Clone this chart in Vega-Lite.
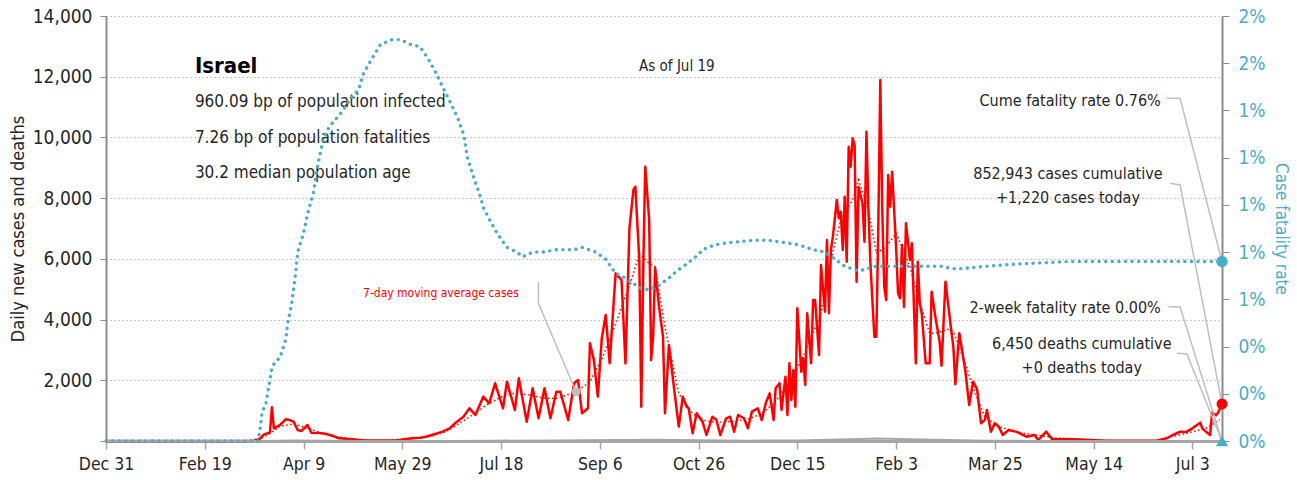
{
  "$schema": "https://vega.github.io/schema/vega-lite/v6.json",
  "width": 1116,
  "height": 425,
  "autosize": {"type": "none"},
  "padding": {"left": 106, "top": 16, "right": 75, "bottom": 39},
  "background": "white",
  "config": {"font": "DejaVu Sans Condensed, Liberation Sans Narrow, Roboto, sans-serif", "view": {"stroke": null}},
  "datasets": {
    "cases": [
      {"date":"2019-12-31","v":0},{"date":"2020-03-10","v":0},{"date":"2020-03-15","v":10},{"date":"2020-03-18","v":80},{"date":"2020-03-20","v":220},{"date":"2020-03-23","v":280},{"date":"2020-03-24","v":1110},{"date":"2020-03-25","v":418},{"date":"2020-03-28","v":520},{"date":"2020-03-31","v":714},{"date":"2020-04-02","v":690},{"date":"2020-04-04","v":636},{"date":"2020-04-06","v":362},{"date":"2020-04-08","v":330},{"date":"2020-04-11","v":527},{"date":"2020-04-13","v":274},{"date":"2020-04-17","v":260},{"date":"2020-04-20","v":241},{"date":"2020-04-24","v":165},{"date":"2020-04-27","v":89},{"date":"2020-05-04","v":56},{"date":"2020-05-10","v":20},{"date":"2020-05-17","v":15},{"date":"2020-05-26","v":20},{"date":"2020-05-30","v":60},{"date":"2020-06-03","v":89},{"date":"2020-06-07","v":110},{"date":"2020-06-10","v":140},{"date":"2020-06-15","v":241},{"date":"2020-06-18","v":300},{"date":"2020-06-22","v":418},{"date":"2020-06-25","v":600},{"date":"2020-06-29","v":800},{"date":"2020-07-02","v":1077},{"date":"2020-07-05","v":856},{"date":"2020-07-09","v":1460},{"date":"2020-07-12","v":1241},{"date":"2020-07-15","v":1900},{"date":"2020-07-19","v":1077},{"date":"2020-07-21","v":1954},{"date":"2020-07-25","v":1021},{"date":"2020-07-27","v":2065},{"date":"2020-07-31","v":636},{"date":"2020-08-03","v":1736},{"date":"2020-08-06","v":748},{"date":"2020-08-09","v":1736},{"date":"2020-08-12","v":748},{"date":"2020-08-15","v":1624},{"date":"2020-08-17","v":1624},{"date":"2020-08-21","v":692},{"date":"2020-08-24","v":1900},{"date":"2020-08-26","v":2010},{"date":"2020-08-28","v":912},{"date":"2020-08-31","v":1077},{"date":"2020-09-01","v":3218},{"date":"2020-09-03","v":2668},{"date":"2020-09-05","v":1460},{"date":"2020-09-07","v":3383},{"date":"2020-09-09","v":4150},{"date":"2020-09-11","v":2559},{"date":"2020-09-14","v":5524},{"date":"2020-09-17","v":5303},{"date":"2020-09-19","v":2559},{"date":"2020-09-21","v":7006},{"date":"2020-09-23","v":8268},{"date":"2020-09-24","v":8377},{"date":"2020-09-26","v":5962},{"date":"2020-09-27","v":1130},{"date":"2020-09-28","v":5700},{"date":"2020-09-29","v":9036},{"date":"2020-10-01","v":7280},{"date":"2020-10-02","v":2668},{"date":"2020-10-03","v":3436},{"date":"2020-10-04","v":5689},{"date":"2020-10-06","v":4424},{"date":"2020-10-08","v":3436},{"date":"2020-10-09","v":912},{"date":"2020-10-11","v":3162},{"date":"2020-10-14","v":1515},{"date":"2020-10-16","v":471},{"date":"2020-10-18","v":1460},{"date":"2020-10-20","v":1130},{"date":"2020-10-21","v":1077},{"date":"2020-10-23","v":253},{"date":"2020-10-25","v":912},{"date":"2020-10-28","v":636},{"date":"2020-10-30","v":198},{"date":"2020-11-02","v":800},{"date":"2020-11-04","v":700},{"date":"2020-11-06","v":198},{"date":"2020-11-09","v":748},{"date":"2020-11-11","v":800},{"date":"2020-11-13","v":307},{"date":"2020-11-15","v":856},{"date":"2020-11-18","v":750},{"date":"2020-11-20","v":418},{"date":"2020-11-22","v":965},{"date":"2020-11-25","v":1077},{"date":"2020-11-27","v":692},{"date":"2020-11-29","v":1241},{"date":"2020-12-01","v":1570},{"date":"2020-12-03","v":692},{"date":"2020-12-04","v":1736},{"date":"2020-12-06","v":1900},{"date":"2020-12-07","v":1021},{"date":"2020-12-09","v":2118},{"date":"2020-12-10","v":856},{"date":"2020-12-11","v":2559},{"date":"2020-12-12","v":1350},{"date":"2020-12-13","v":2339},{"date":"2020-12-14","v":1130},{"date":"2020-12-15","v":4371},{"date":"2020-12-17","v":2283},{"date":"2020-12-18","v":2724},{"date":"2020-12-19","v":1845},{"date":"2020-12-20","v":4206},{"date":"2020-12-22","v":2559},{"date":"2020-12-23","v":4645},{"date":"2020-12-24","v":4645},{"date":"2020-12-26","v":2833},{"date":"2020-12-27","v":5797},{"date":"2020-12-29","v":4259},{"date":"2020-12-30","v":6621},{"date":"2020-12-31","v":4206},{"date":"2021-01-01","v":6292},{"date":"2021-01-02","v":6730},{"date":"2021-01-04","v":7939},{"date":"2021-01-05","v":7336},{"date":"2021-01-06","v":7554},{"date":"2021-01-07","v":6292},{"date":"2021-01-08","v":8047},{"date":"2021-01-09","v":5906},{"date":"2021-01-10","v":9694},{"date":"2021-01-11","v":9036},{"date":"2021-01-12","v":9971},{"date":"2021-01-13","v":9750},{"date":"2021-01-14","v":5248},{"date":"2021-01-15","v":8377},{"date":"2021-01-17","v":7829},{"date":"2021-01-18","v":6566},{"date":"2021-01-19","v":10189},{"date":"2021-01-20","v":7610},{"date":"2021-01-21","v":5853},{"date":"2021-01-23","v":3436},{"date":"2021-01-24","v":3436},{"date":"2021-01-25","v":7060},{"date":"2021-01-26","v":11893},{"date":"2021-01-27","v":7610},{"date":"2021-01-28","v":5084},{"date":"2021-01-29","v":4645},{"date":"2021-01-30","v":8762},{"date":"2021-01-31","v":7719},{"date":"2021-02-01","v":8871},{"date":"2021-02-03","v":6401},{"date":"2021-02-04","v":4865},{"date":"2021-02-05","v":4700},{"date":"2021-02-06","v":6456},{"date":"2021-02-07","v":4424},{"date":"2021-02-08","v":7170},{"date":"2021-02-10","v":5962},{"date":"2021-02-11","v":6512},{"date":"2021-02-13","v":2559},{"date":"2021-02-14","v":5906},{"date":"2021-02-15","v":4535},{"date":"2021-02-16","v":4200},{"date":"2021-02-18","v":2559},{"date":"2021-02-20","v":2559},{"date":"2021-02-21","v":4919},{"date":"2021-02-23","v":4042},{"date":"2021-02-25","v":3300},{"date":"2021-02-26","v":2480},{"date":"2021-02-28","v":5248},{"date":"2021-03-03","v":3600},{"date":"2021-03-04","v":3106},{"date":"2021-03-05","v":1870},{"date":"2021-03-07","v":3548},{"date":"2021-03-08","v":3162},{"date":"2021-03-10","v":2339},{"date":"2021-03-12","v":1186},{"date":"2021-03-14","v":1954},{"date":"2021-03-16","v":1700},{"date":"2021-03-18","v":583},{"date":"2021-03-20","v":700},{"date":"2021-03-21","v":1021},{"date":"2021-03-23","v":307},{"date":"2021-03-25","v":583},{"date":"2021-03-27","v":471},{"date":"2021-03-29","v":198},{"date":"2021-04-01","v":362},{"date":"2021-04-05","v":300},{"date":"2021-04-10","v":142},{"date":"2021-04-14","v":200},{"date":"2021-04-16","v":33},{"date":"2021-04-20","v":307},{"date":"2021-04-23","v":60},{"date":"2021-05-04","v":56},{"date":"2021-05-20","v":10},{"date":"2021-06-15","v":10},{"date":"2021-06-20","v":89},{"date":"2021-06-23","v":198},{"date":"2021-06-27","v":307},{"date":"2021-06-30","v":300},{"date":"2021-07-03","v":418},{"date":"2021-07-07","v":604},{"date":"2021-07-08","v":418},{"date":"2021-07-10","v":300},{"date":"2021-07-12","v":198},{"date":"2021-07-13","v":933},{"date":"2021-07-15","v":850},{"date":"2021-07-16","v":933},{"date":"2021-07-18","v":1220}
    ],
    "ma": [
      {"date":"2019-12-31","v":0},{"date":"2020-03-10","v":0},{"date":"2020-03-18","v":80},{"date":"2020-03-22","v":200},{"date":"2020-03-28","v":480},{"date":"2020-04-04","v":560},{"date":"2020-04-11","v":430},{"date":"2020-04-18","v":260},{"date":"2020-04-25","v":150},{"date":"2020-05-02","v":70},{"date":"2020-05-09","v":25},{"date":"2020-05-16","v":15},{"date":"2020-05-23","v":15},{"date":"2020-05-30","v":45},{"date":"2020-06-06","v":100},{"date":"2020-06-13","v":170},{"date":"2020-06-20","v":300},{"date":"2020-06-27","v":580},{"date":"2020-07-04","v":880},{"date":"2020-07-11","v":1200},{"date":"2020-07-18","v":1450},{"date":"2020-07-25","v":1580},{"date":"2020-08-01","v":1520},{"date":"2020-08-08","v":1420},{"date":"2020-08-15","v":1400},{"date":"2020-08-25","v":1624},{"date":"2020-09-01","v":1950},{"date":"2020-09-07","v":2700},{"date":"2020-09-12","v":3500},{"date":"2020-09-17","v":4400},{"date":"2020-09-22","v":5300},{"date":"2020-09-26","v":6180},{"date":"2020-09-30","v":5900},{"date":"2020-10-04","v":5740},{"date":"2020-10-09","v":3765},{"date":"2020-10-16","v":1570},{"date":"2020-10-23","v":900},{"date":"2020-10-30","v":650},{"date":"2020-11-06","v":620},{"date":"2020-11-13","v":650},{"date":"2020-11-20","v":720},{"date":"2020-11-27","v":900},{"date":"2020-12-04","v":1300},{"date":"2020-12-11","v":1900},{"date":"2020-12-18","v":2800},{"date":"2020-12-27","v":4206},{"date":"2021-01-01","v":5962},{"date":"2021-01-06","v":7280},{"date":"2021-01-12","v":7939},{"date":"2021-01-15","v":8597},{"date":"2021-01-20","v":7610},{"date":"2021-01-24","v":6190},{"date":"2021-01-29","v":6400},{"date":"2021-02-03","v":6840},{"date":"2021-02-06","v":6400},{"date":"2021-02-10","v":5740},{"date":"2021-02-15","v":4540},{"date":"2021-02-20","v":3550},{"date":"2021-02-23","v":3550},{"date":"2021-03-01","v":3680},{"date":"2021-03-04","v":3600},{"date":"2021-03-07","v":3100},{"date":"2021-03-10","v":2559},{"date":"2021-03-15","v":1570},{"date":"2021-03-20","v":800},{"date":"2021-03-27","v":471},{"date":"2021-04-08","v":260},{"date":"2021-04-25","v":100},{"date":"2021-05-20","v":20},{"date":"2021-06-15","v":15},{"date":"2021-06-23","v":150},{"date":"2021-07-03","v":300},{"date":"2021-07-10","v":420},{"date":"2021-07-17","v":700}
    ],
    "deaths": [
      {"date":"2019-12-31","v":0},{"date":"2020-03-20","v":0},{"date":"2020-04-05","v":15},{"date":"2020-04-20","v":10},{"date":"2020-05-10","v":2},{"date":"2020-06-20","v":1},{"date":"2020-07-15","v":10},{"date":"2020-08-15","v":20},{"date":"2020-09-15","v":30},{"date":"2020-10-05","v":45},{"date":"2020-10-25","v":25},{"date":"2020-11-20","v":12},{"date":"2020-12-15","v":20},{"date":"2021-01-10","v":60},{"date":"2021-01-25","v":80},{"date":"2021-02-10","v":55},{"date":"2021-03-01","v":30},{"date":"2021-03-20","v":12},{"date":"2021-04-15","v":3},{"date":"2021-05-15","v":1},{"date":"2021-07-18","v":0}
    ],
    "cfr": [
      {"date":"2019-12-31","r":0},{"date":"2020-03-17","r":0},{"date":"2020-03-18","r":0.0005},{"date":"2020-03-19","r":0.0012},{"date":"2020-03-21","r":0.0016},{"date":"2020-03-23","r":0.0026},{"date":"2020-03-24","r":0.0031},{"date":"2020-03-26","r":0.0034},{"date":"2020-03-28","r":0.0035},{"date":"2020-03-31","r":0.0043},{"date":"2020-04-01","r":0.005},{"date":"2020-04-03","r":0.0058},{"date":"2020-04-05","r":0.0071},{"date":"2020-04-06","r":0.008},{"date":"2020-04-09","r":0.0088},{"date":"2020-04-11","r":0.0096},{"date":"2020-04-14","r":0.0105},{"date":"2020-04-16","r":0.0116},{"date":"2020-04-19","r":0.0128},{"date":"2020-04-22","r":0.0133},{"date":"2020-04-25","r":0.0136},{"date":"2020-04-29","r":0.014},{"date":"2020-05-02","r":0.0144},{"date":"2020-05-07","r":0.0149},{"date":"2020-05-09","r":0.0155},{"date":"2020-05-13","r":0.0161},{"date":"2020-05-18","r":0.0168},{"date":"2020-05-24","r":0.017},{"date":"2020-05-28","r":0.017},{"date":"2020-06-02","r":0.0168},{"date":"2020-06-07","r":0.0167},{"date":"2020-06-11","r":0.0162},{"date":"2020-06-15","r":0.0156},{"date":"2020-06-19","r":0.0149},{"date":"2020-06-22","r":0.0144},{"date":"2020-06-26","r":0.0137},{"date":"2020-06-29","r":0.013},{"date":"2020-07-01","r":0.012},{"date":"2020-07-04","r":0.0112},{"date":"2020-07-07","r":0.0105},{"date":"2020-07-09","r":0.0099},{"date":"2020-07-12","r":0.0094},{"date":"2020-07-16","r":0.0088},{"date":"2020-07-21","r":0.0082},{"date":"2020-07-26","r":0.008},{"date":"2020-07-29","r":0.0078},{"date":"2020-08-03","r":0.008},{"date":"2020-08-08","r":0.008},{"date":"2020-08-15","r":0.0081},{"date":"2020-08-24","r":0.0081},{"date":"2020-08-28","r":0.0082},{"date":"2020-09-04","r":0.008},{"date":"2020-09-09","r":0.0077},{"date":"2020-09-14","r":0.0071},{"date":"2020-09-19","r":0.0069},{"date":"2020-09-26","r":0.0065},{"date":"2020-10-01","r":0.0064},{"date":"2020-10-06","r":0.0066},{"date":"2020-10-11","r":0.0069},{"date":"2020-10-15","r":0.0072},{"date":"2020-10-20","r":0.0075},{"date":"2020-10-26","r":0.0079},{"date":"2020-10-28","r":0.0081},{"date":"2020-11-03","r":0.0083},{"date":"2020-11-10","r":0.0084},{"date":"2020-11-23","r":0.0085},{"date":"2020-11-30","r":0.0085},{"date":"2020-12-09","r":0.0084},{"date":"2020-12-16","r":0.0083},{"date":"2020-12-23","r":0.0081},{"date":"2020-12-29","r":0.008},{"date":"2021-01-03","r":0.0077},{"date":"2021-01-08","r":0.0074},{"date":"2021-01-15","r":0.0072},{"date":"2021-01-24","r":0.0074},{"date":"2021-02-06","r":0.0074},{"date":"2021-02-16","r":0.0074},{"date":"2021-02-26","r":0.0074},{"date":"2021-03-03","r":0.0073},{"date":"2021-03-08","r":0.0073},{"date":"2021-03-20","r":0.0074},{"date":"2021-04-06","r":0.0075},{"date":"2021-05-01","r":0.0076},{"date":"2021-06-04","r":0.0076},{"date":"2021-07-18","r":0.0076}
    ],
    "leaders": [
      {"g":"a","o":1,"date":"2021-06-20","v":11289},{"g":"a","o":2,"date":"2021-06-26T19:00:00Z","v":11289},{"g":"a","o":3,"date":"2021-07-18","v":5911},
      {"g":"b","o":1,"date":"2021-06-21T19:00:00Z","v":8489},{"g":"b","o":2,"date":"2021-06-26T19:00:00Z","v":8433},{"g":"b","o":3,"date":"2021-07-18","v":1220},
      {"g":"c","o":1,"date":"2021-06-20T22:00:00Z","v":4424},{"g":"c","o":2,"date":"2021-06-26T19:00:00Z","v":4414},{"g":"c","o":3,"date":"2021-07-18","v":0},
      {"g":"d","o":1,"date":"2021-06-25T03:00:00Z","v":2889},{"g":"d","o":2,"date":"2021-06-30T05:00:00Z","v":2866},{"g":"d","o":3,"date":"2021-07-18","v":0},
      {"g":"e","o":1,"date":"2020-08-05T22:00:00Z","v":5247},{"g":"e","o":2,"date":"2020-08-05T22:00:00Z","v":4536},{"g":"e","o":3,"date":"2020-08-25","v":1624}
    ],
    "notes": [
      {"k":"title","date":"2020-02-14","v":12132,"label":"Israel"},
      {"k":"stat","date":"2020-02-14","v":10992,"label":"960.09 bp of population infected"},
      {"k":"stat","date":"2020-02-14","v":9826,"label":"7.26 bp of population fatalities"},
      {"k":"stat","date":"2020-02-14","v":8653,"label":"30.2 median population age"},
      {"k":"asof","date":"2020-10-15","v":12188,"label":"As of Jul 19"},
      {"k":"right","date":"2021-06-17","v":11035,"label":"Cume fatality rate 0.76%"},
      {"k":"right","date":"2021-06-17","v":4206,"label":"2-week fatality rate 0.00%"},
      {"k":"center","date":"2021-05-01","v":8620,"label":"852,943 cases cumulative"},
      {"k":"center","date":"2021-05-01","v":7850,"label":"+1,220 cases today"},
      {"k":"center","date":"2021-05-08","v":3020,"label":"6,450 deaths cumulative"},
      {"k":"center","date":"2021-05-08","v":2230,"label":"+0 deaths today"},
      {"k":"ma","date":"2020-07-27","v":4753,"label":"7-day moving average cases"}
    ],
    "pts": [
      {"k":"gray","date":"2020-08-25","v":1624},
      {"k":"red","date":"2021-07-18","v":1220}
    ],
    "rpts": [
      {"k":"dot","date":"2021-07-18","r":0.0076},
      {"k":"tri","date":"2021-07-18","r":0}
    ]
  },
  "layer": [
    {
      "layer": [
        {
          "data": {"name": "cases"},
          "mark": {"type": "line", "color": "#ff0000", "strokeWidth": 2.5, "strokeJoin": "round"},
          "encoding": {
            "x": {"field": "date", "type": "temporal",
              "scale": {"type": "utc", "domain": [1577750400000, 1626566400000]},
              "axis": {"values": [1577750400000, 1582070400000, 1586390400000, 1590710400000, 1595030400000, 1599350400000, 1603670400000, 1607990400000, 1612310400000, 1616630400000, 1620950400000, 1625270400000],
                "labelExpr": "utcFormat(datum.value, '%b %-d')", "title": null, "grid": false,
                "domainColor": "#a6a6a6", "domainWidth": 3, "tickColor": "#a6a6a6", "tickWidth": 1.5, "tickSize": 8,
                "labelFontSize": 17.5, "labelColor": "#262626", "labelPadding": 6, "labelOverlap": false, "labelFlush": false}},
            "y": {"field": "v", "type": "quantitative", "scale": {"domain": [0, 14000]},
              "axis": {"values": [0, 2000, 4000, 6000, 8000, 10000, 12000, 14000],
                "labelExpr": "datum.value === 0 ? '' : format(datum.value, ',')",
                "title": "Daily new cases and deaths", "titleFontSize": 18, "titleFontWeight": "normal", "titleColor": "#262626", "titlePadding": 5,
                "labelFontSize": 19, "labelColor": "#262626", "labelPadding": 8, "tickSize": 6, "tickColor": "#8c8c8c",
                "domainColor": "#8c8c8c", "domainWidth": 2, "grid": true, "gridColor": "#a6a6a6", "gridDash": [1.2, 2.8], "gridWidth": 1.2}}
          }
        },
        {
          "data": {"name": "ma"},
          "mark": {"type": "line", "color": "#ff0000", "strokeWidth": 1.5, "strokeDash": [1.5, 2.5]},
          "encoding": {
            "x": {"field": "date", "type": "temporal", "scale": {"type": "utc", "domain": [1577750400000, 1626566400000]}},
            "y": {"field": "v", "type": "quantitative", "scale": {"domain": [0, 14000]}}
          }
        },
        {
          "data": {"name": "deaths"},
          "mark": {"type": "line", "color": "#a6a6a6", "strokeWidth": 2},
          "encoding": {
            "x": {"field": "date", "type": "temporal", "scale": {"type": "utc", "domain": [1577750400000, 1626566400000]}},
            "y": {"field": "v", "type": "quantitative", "scale": {"domain": [0, 14000]}}
          }
        },
        {
          "data": {"name": "leaders"},
          "mark": {"type": "line", "color": "#bfbfbf", "strokeWidth": 1.5},
          "encoding": {
            "x": {"field": "date", "type": "temporal", "scale": {"type": "utc", "domain": [1577750400000, 1626566400000]}},
            "y": {"field": "v", "type": "quantitative", "scale": {"domain": [0, 14000]}},
            "detail": {"field": "g"},
            "order": {"field": "o"}
          }
        },
        {
          "data": {"name": "notes"},
          "transform": [{"filter": "datum.k === 'title'"}],
          "mark": {"type": "text", "align": "left", "baseline": "alphabetic", "fontSize": 22, "fontWeight": "bold", "color": "#000000"},
          "encoding": {
            "x": {"field": "date", "type": "temporal", "scale": {"type": "utc", "domain": [1577750400000, 1626566400000]}},
            "y": {"field": "v", "type": "quantitative", "scale": {"domain": [0, 14000]}},
            "text": {"field": "label"}
          }
        },
        {
          "data": {"name": "notes"},
          "transform": [{"filter": "datum.k === 'stat'"}],
          "mark": {"type": "text", "align": "left", "baseline": "alphabetic", "fontSize": 17, "color": "#262626"},
          "encoding": {
            "x": {"field": "date", "type": "temporal", "scale": {"type": "utc", "domain": [1577750400000, 1626566400000]}},
            "y": {"field": "v", "type": "quantitative", "scale": {"domain": [0, 14000]}},
            "text": {"field": "label"}
          }
        },
        {
          "data": {"name": "notes"},
          "transform": [{"filter": "datum.k === 'asof'"}],
          "mark": {"type": "text", "align": "center", "baseline": "alphabetic", "fontSize": 15, "color": "#262626"},
          "encoding": {
            "x": {"field": "date", "type": "temporal", "scale": {"type": "utc", "domain": [1577750400000, 1626566400000]}},
            "y": {"field": "v", "type": "quantitative", "scale": {"domain": [0, 14000]}},
            "text": {"field": "label"}
          }
        },
        {
          "data": {"name": "notes"},
          "transform": [{"filter": "datum.k === 'right'"}],
          "mark": {"type": "text", "align": "right", "baseline": "alphabetic", "fontSize": 16, "color": "#262626"},
          "encoding": {
            "x": {"field": "date", "type": "temporal", "scale": {"type": "utc", "domain": [1577750400000, 1626566400000]}},
            "y": {"field": "v", "type": "quantitative", "scale": {"domain": [0, 14000]}},
            "text": {"field": "label"}
          }
        },
        {
          "data": {"name": "notes"},
          "transform": [{"filter": "datum.k === 'center'"}],
          "mark": {"type": "text", "align": "center", "baseline": "alphabetic", "fontSize": 16, "color": "#262626"},
          "encoding": {
            "x": {"field": "date", "type": "temporal", "scale": {"type": "utc", "domain": [1577750400000, 1626566400000]}},
            "y": {"field": "v", "type": "quantitative", "scale": {"domain": [0, 14000]}},
            "text": {"field": "label"}
          }
        },
        {
          "data": {"name": "notes"},
          "transform": [{"filter": "datum.k === 'ma'"}],
          "mark": {"type": "text", "align": "right", "baseline": "alphabetic", "fontSize": 12, "color": "#ff0000"},
          "encoding": {
            "x": {"field": "date", "type": "temporal", "scale": {"type": "utc", "domain": [1577750400000, 1626566400000]}},
            "y": {"field": "v", "type": "quantitative", "scale": {"domain": [0, 14000]}},
            "text": {"field": "label"}
          }
        },
        {
          "data": {"name": "pts"},
          "transform": [{"filter": "datum.k === 'gray'"}],
          "mark": {"type": "point", "shape": "circle", "filled": true, "opacity": 1, "size": 80, "color": "#bfbfbf"},
          "encoding": {
            "x": {"field": "date", "type": "temporal", "scale": {"type": "utc", "domain": [1577750400000, 1626566400000]}},
            "y": {"field": "v", "type": "quantitative", "scale": {"domain": [0, 14000]}}
          }
        },
        {
          "data": {"name": "pts"},
          "transform": [{"filter": "datum.k === 'red'"}],
          "mark": {"type": "point", "shape": "circle", "filled": true, "opacity": 1, "size": 120, "color": "#ff0000"},
          "encoding": {
            "x": {"field": "date", "type": "temporal", "scale": {"type": "utc", "domain": [1577750400000, 1626566400000]}},
            "y": {"field": "v", "type": "quantitative", "scale": {"domain": [0, 14000]}}
          }
        }
      ]
    },
    {
      "layer": [
        {
          "data": {"name": "cfr"},
          "mark": {"type": "line", "color": "#4bacc6", "strokeWidth": 3.4, "strokeCap": "round", "strokeDash": [0.1, 6.5]},
          "encoding": {
            "x": {"field": "date", "type": "temporal", "scale": {"type": "utc", "domain": [1577750400000, 1626566400000]}},
            "y": {"field": "r", "type": "quantitative", "scale": {"domain": [0, 0.018]},
              "axis": {"orient": "right", "values": [0, 0.002, 0.004, 0.006, 0.008, 0.01, 0.012, 0.014, 0.016, 0.018], "format": ".0%",
                "title": "Case fatality rate", "titleFontSize": 17, "titleFontWeight": "normal", "titleColor": "#4bacc6", "titlePadding": 6,
                "labelFontSize": 19, "labelColor": "#4bacc6", "labelPadding": 9, "tickSize": 7, "tickColor": "#8c8c8c",
                "domainColor": "#8c8c8c", "domainWidth": 2, "grid": false}}
          }
        },
        {
          "data": {"name": "rpts"},
          "transform": [{"filter": "datum.k === 'dot'"}],
          "mark": {"type": "point", "shape": "circle", "filled": true, "opacity": 1, "size": 130, "color": "#4bacc6"},
          "encoding": {
            "x": {"field": "date", "type": "temporal", "scale": {"type": "utc", "domain": [1577750400000, 1626566400000]}},
            "y": {"field": "r", "type": "quantitative", "scale": {"domain": [0, 0.018]}}
          }
        },
        {
          "data": {"name": "rpts"},
          "transform": [{"filter": "datum.k === 'tri'"}],
          "mark": {"type": "point", "shape": "triangle-up", "filled": true, "opacity": 1, "size": 150, "color": "#4bacc6"},
          "encoding": {
            "x": {"field": "date", "type": "temporal", "scale": {"type": "utc", "domain": [1577750400000, 1626566400000]}},
            "y": {"field": "r", "type": "quantitative", "scale": {"domain": [0, 0.018]}}
          }
        }
      ]
    }
  ],
  "resolve": {"scale": {"y": "independent"}}
}
